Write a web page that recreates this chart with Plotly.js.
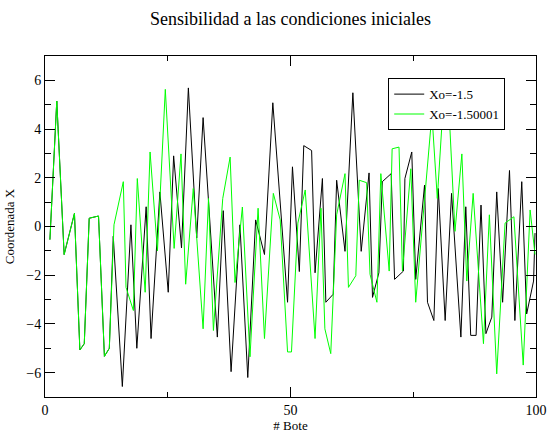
<!DOCTYPE html>
<html>
<head>
<meta charset="utf-8">
<script src="https://cdn.plot.ly/plotly-3.0.1.min.js"></script>
<style>html,body{margin:0;padding:0;background:#fff}#chart{width:547px;height:434px}</style>
</head>
<body>
<div id="chart"></div>
<script>
// Series 1: Xo=-1.5 (black)
const blackX = [1.0,2.4,3.9,6.0,7.1,8.0,9.0,10.9,12.1,13.1,
  13.9,15.75,17.5,18.7,20.6,21.6,23.4,25.1,26.2,27.8,29.2,30.9,32.2,35.1,36.3,37.9,39.7,41.3,42.9,44.7,
  46.4,49.4,50.4,51.8,52.7,54.3,55.0,56.5,57.2,58.7,59.4,61.1,62.7,64.4,66.0,66.7,68.0,68.7,70.5,71.2,
  73.0,73.3,74.7,75.5,77.3,77.9,79.2,80.1,81.5,82.8,84.7,85.7,86.7,87.8,88.8,89.8,91.0,92.0,93.2,94.6,
  95.7,97.1,98.1,99.5,99.8];
const blackY = [-0.54,5.15,-1.15,0.54,-5.07,-4.81,0.34,0.43,-5.33,-5.0,
  -0.4,-6.57,0.07,-5.0,0.81,-4.6,1.42,-2.7,2.9,-0.88,5.69,-0.47,4.47,-4.54,0.65,-5.96,0.07,-6.2,0.27,-1.15,
  5.08,-3.11,2.45,-1.85,3.32,3.12,-1.9,1.97,-3.11,-2.78,1.9,-1.02,5.49,-1.02,2.2,-2.91,-1.9,1.84,2.17,-2.17,
  -1.83,1.97,3.06,-2.17,1.7,-3.11,-3.86,1.56,-3.86,1.36,-4.54,0.81,-4.47,-4.47,0.88,-4.4,-3.72,1.42,-3.11,2.3,
  -3.86,1.84,-3.59,-2.24,-0.27];

// Series 2: Xo=-1.50001 (green)
const greenX = [1.0,2.4,3.9,6.0,7.1,8.0,9.0,10.9,12.1,13.1,
  14.05,15.95,16.5,18.0,18.8,20.4,21.4,22.9,24.5,26.3,27.7,28.65,30.2,32.2,33.3,34.3,36.2,37.7,38.7,40.2,41.75,
  43.4,44.7,46.5,47.9,49.4,50.2,51.5,53.0,55.0,56.2,57.0,58.2,59.4,61.1,61.8,63.3,64.0,65.5,66.2,67.6,
  68.4,70.1,70.7,72.1,72.8,74.5,75.5,78.8,79.9,81.0,82.3,83.5,84.9,85.9,87.2,89.3,90.5,92.0,93.7,95.5,
  97.4,98.8,99.8];
const greenY = [-0.54,5.15,-1.15,0.54,-5.07,-4.81,0.34,0.43,-5.33,-5.0,
  0.07,1.84,-2.5,-3.45,1.97,-2.7,3.06,-1.0,5.63,-0.9,2.98,-2.37,1.56,-4.2,1.15,-4.27,1.15,2.85,-2.3,0.8,-5.35,
  0.75,-4.6,1.36,0.27,-5.15,-5.15,0.14,1.5,-4.6,0.75,-4.2,-5.22,0.48,2.17,-2.5,-2.02,1.9,1.8,-1.96,-3.11,
  2.17,-1.83,3.19,3.26,-1.83,2.37,-3.11,4.61,1.15,4.7,4.7,-0.2,2.98,-2.24,1.36,-4.81,0.48,-6.05,0.14,0.4,
  -5.69,0.68,-1.15];

const names = ["Xo=-1.5", "Xo=-1.50001"];
const titleText = "Sensibilidad a las condiciones iniciales";
const xTitle = "# Bote";
const yTitle = "Coordenada X";

const serif = "Liberation Serif, Times New Roman, serif";

const traces = [
  {x: blackX, y: blackY, name: names[0], mode: "lines", line: {color: "#000000", width: 1}},
  {x: greenX, y: greenY, name: names[1], mode: "lines", line: {color: "#00ff00", width: 1}}
];

const layout = {
  width: 547, height: 434,
  margin: {l: 45, r: 11, t: 56, b: 37, pad: 0},
  paper_bgcolor: "#fff", plot_bgcolor: "#fff",
  font: {family: serif, size: 13, color: "#000"},
  title: {text: titleText, font: {family: serif, size: 18, color: "#000"},
          xref: "paper", x: 0.5, xanchor: "center", yref: "container", y: 0.958, yanchor: "middle"},
  showlegend: true,
  legend: {x: 0.699, y: 0.935, xanchor: "left", yanchor: "top", bgcolor: "#fff",
           bordercolor: "#000", borderwidth: 1, font: {family: serif, size: 13},
           tracegroupgap: 0, itemwidth: 30},
  xaxis: {range: [0, 100], dtick: 50, tick0: 0, showgrid: false, zeroline: false,
          showline: true, linecolor: "#000", linewidth: 1, mirror: "allticks",
          ticks: "inside", ticklen: 10, tickcolor: "#000", tickfont: {family: serif, size: 14},
          minor: {dtick: 25, ticks: "inside", ticklen: 5, tickcolor: "#000", showgrid: false},
          title: {text: xTitle, font: {family: serif, size: 13}, standoff: 2}},
  yaxis: {range: [-7, 7], dtick: 2, tick0: 0, showgrid: false, zeroline: false,
          showline: true, linecolor: "#000", linewidth: 1, mirror: "allticks",
          ticks: "inside", ticklen: 10, tickcolor: "#000", tickfont: {family: serif, size: 14},
          minor: {dtick: 1, ticks: "inside", ticklen: 6, tickcolor: "#000", showgrid: false},
          title: {text: yTitle, font: {family: serif, size: 13}, standoff: 8}}
};

Plotly.newPlot("chart", traces, layout, {displayModeBar: false, staticPlot: true});
</script>
</body>
</html>
